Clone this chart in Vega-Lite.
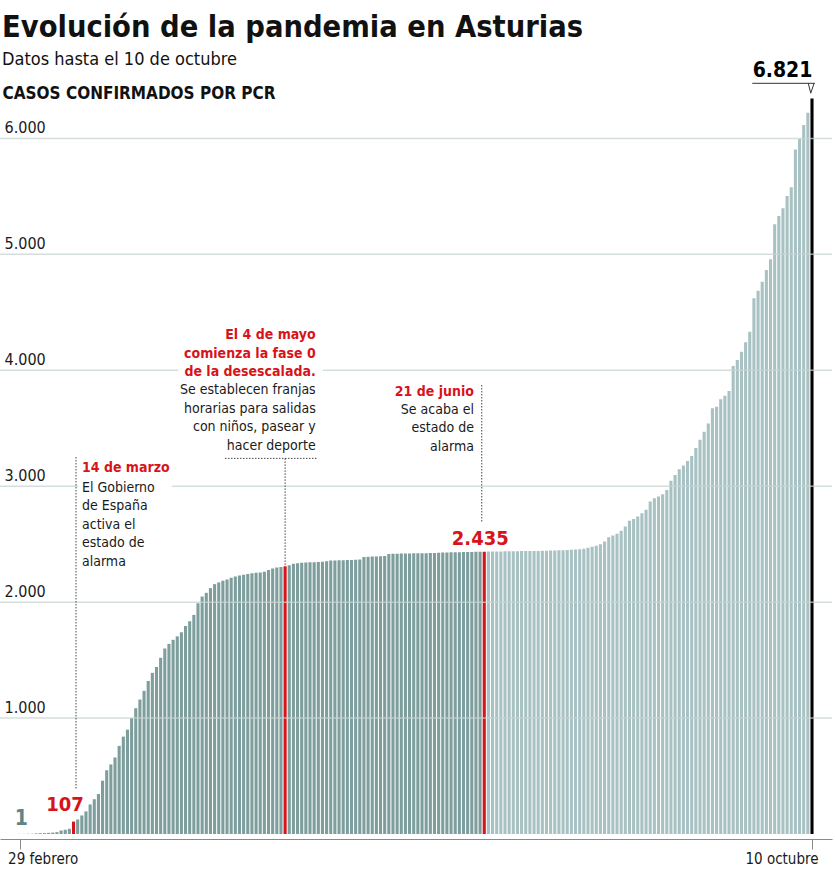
{
  "$schema": "https://vega.github.io/schema/vega-lite/v6.json",
  "width": 832,
  "height": 742,
  "autosize": {"type": "none"},
  "padding": {"left": 0, "top": 92, "right": 3, "bottom": 44},
  "background": "white",
  "config": {"view": {"stroke": null}, "font": "DejaVu Sans Condensed, DejaVu Sans, sans-serif"},
  "title": {
    "text": "Evolución de la pandemia en Asturias",
    "subtitle": "Datos hasta el 10 de octubre",
    "anchor": "start",
    "frame": "group",
    "fontSize": 30.5,
    "fontWeight": "bold",
    "color": "#111111",
    "subtitleFontSize": 18,
    "subtitleColor": "#111111",
    "subtitlePadding": 8,
    "offset": -9,
    "dx": 2
  },
  "datasets": {
    "casos": [
      {"i":0,"v":1,"tipo":"antes"},{"i":1,"v":1,"tipo":"antes"},{"i":2,"v":2,"tipo":"antes"},{"i":3,"v":3,"tipo":"antes"},{"i":4,"v":5,"tipo":"antes"},{"i":5,"v":7,"tipo":"antes"},{"i":6,"v":8,"tipo":"antes"},{"i":7,"v":10,"tipo":"antes"},{"i":8,"v":12,"tipo":"antes"},{"i":9,"v":16,"tipo":"antes"},
      {"i":10,"v":30,"tipo":"antes"},{"i":11,"v":37,"tipo":"antes"},{"i":12,"v":45,"tipo":"antes"},{"i":13,"v":107,"tipo":"rojo"},{"i":14,"v":125,"tipo":"antes"},{"i":15,"v":160,"tipo":"antes"},{"i":16,"v":195,"tipo":"antes"},{"i":17,"v":255,"tipo":"antes"},{"i":18,"v":300,"tipo":"antes"},{"i":19,"v":345,"tipo":"antes"},
      {"i":20,"v":460,"tipo":"antes"},{"i":21,"v":550,"tipo":"antes"},{"i":22,"v":600,"tipo":"antes"},{"i":23,"v":660,"tipo":"antes"},{"i":24,"v":760,"tipo":"antes"},{"i":25,"v":840,"tipo":"antes"},{"i":26,"v":900,"tipo":"antes"},{"i":27,"v":1000,"tipo":"antes"},{"i":28,"v":1085,"tipo":"antes"},{"i":29,"v":1160,"tipo":"antes"},
      {"i":30,"v":1235,"tipo":"antes"},{"i":31,"v":1320,"tipo":"antes"},{"i":32,"v":1390,"tipo":"antes"},{"i":33,"v":1440,"tipo":"antes"},{"i":34,"v":1520,"tipo":"antes"},{"i":35,"v":1600,"tipo":"antes"},{"i":36,"v":1640,"tipo":"antes"},{"i":37,"v":1675,"tipo":"antes"},{"i":38,"v":1705,"tipo":"antes"},{"i":39,"v":1740,"tipo":"antes"},
      {"i":40,"v":1795,"tipo":"antes"},{"i":41,"v":1835,"tipo":"antes"},{"i":42,"v":1890,"tipo":"antes"},{"i":43,"v":1990,"tipo":"antes"},{"i":44,"v":2048,"tipo":"antes"},{"i":45,"v":2080,"tipo":"antes"},{"i":46,"v":2121,"tipo":"antes"},{"i":47,"v":2155,"tipo":"antes"},{"i":48,"v":2170,"tipo":"antes"},{"i":49,"v":2185,"tipo":"antes"},
      {"i":50,"v":2195,"tipo":"antes"},{"i":51,"v":2210,"tipo":"antes"},{"i":52,"v":2222,"tipo":"antes"},{"i":53,"v":2230,"tipo":"antes"},{"i":54,"v":2236,"tipo":"antes"},{"i":55,"v":2242,"tipo":"antes"},{"i":56,"v":2248,"tipo":"antes"},{"i":57,"v":2253,"tipo":"antes"},{"i":58,"v":2256,"tipo":"antes"},{"i":59,"v":2262,"tipo":"antes"},
      {"i":60,"v":2278,"tipo":"antes"},{"i":61,"v":2290,"tipo":"antes"},{"i":62,"v":2298,"tipo":"antes"},{"i":63,"v":2302,"tipo":"antes"},{"i":64,"v":2310,"tipo":"rojo"},{"i":65,"v":2319,"tipo":"antes"},{"i":66,"v":2330,"tipo":"antes"},{"i":67,"v":2336,"tipo":"antes"},{"i":68,"v":2339,"tipo":"antes"},{"i":69,"v":2341,"tipo":"antes"},
      {"i":70,"v":2343,"tipo":"antes"},{"i":71,"v":2345,"tipo":"antes"},{"i":72,"v":2347,"tipo":"antes"},{"i":73,"v":2349,"tipo":"antes"},{"i":74,"v":2352,"tipo":"antes"},{"i":75,"v":2358,"tipo":"antes"},{"i":76,"v":2360,"tipo":"antes"},{"i":77,"v":2361,"tipo":"antes"},{"i":78,"v":2362,"tipo":"antes"},{"i":79,"v":2363,"tipo":"antes"},
      {"i":80,"v":2364,"tipo":"antes"},{"i":81,"v":2366,"tipo":"antes"},{"i":82,"v":2368,"tipo":"antes"},{"i":83,"v":2390,"tipo":"antes"},{"i":84,"v":2392,"tipo":"antes"},{"i":85,"v":2393,"tipo":"antes"},{"i":86,"v":2394,"tipo":"antes"},{"i":87,"v":2395,"tipo":"antes"},{"i":88,"v":2397,"tipo":"antes"},{"i":89,"v":2415,"tipo":"antes"},
      {"i":90,"v":2417,"tipo":"antes"},{"i":91,"v":2418,"tipo":"antes"},{"i":92,"v":2419,"tipo":"antes"},{"i":93,"v":2420,"tipo":"antes"},{"i":94,"v":2420,"tipo":"antes"},{"i":95,"v":2421,"tipo":"antes"},{"i":96,"v":2421,"tipo":"antes"},{"i":97,"v":2422,"tipo":"antes"},{"i":98,"v":2422,"tipo":"antes"},{"i":99,"v":2423,"tipo":"antes"},
      {"i":100,"v":2424,"tipo":"antes"},{"i":101,"v":2426,"tipo":"antes"},{"i":102,"v":2428,"tipo":"antes"},{"i":103,"v":2429,"tipo":"antes"},{"i":104,"v":2430,"tipo":"antes"},{"i":105,"v":2431,"tipo":"antes"},{"i":106,"v":2431,"tipo":"antes"},{"i":107,"v":2432,"tipo":"antes"},{"i":108,"v":2432,"tipo":"antes"},{"i":109,"v":2433,"tipo":"antes"},
      {"i":110,"v":2434,"tipo":"antes"},{"i":111,"v":2434,"tipo":"antes"},{"i":112,"v":2435,"tipo":"rojo"},{"i":113,"v":2436,"tipo":"despues"},{"i":114,"v":2436,"tipo":"despues"},{"i":115,"v":2437,"tipo":"despues"},{"i":116,"v":2437,"tipo":"despues"},{"i":117,"v":2438,"tipo":"despues"},{"i":118,"v":2438,"tipo":"despues"},{"i":119,"v":2439,"tipo":"despues"},
      {"i":120,"v":2439,"tipo":"despues"},{"i":121,"v":2440,"tipo":"despues"},{"i":122,"v":2440,"tipo":"despues"},{"i":123,"v":2441,"tipo":"despues"},{"i":124,"v":2441,"tipo":"despues"},{"i":125,"v":2442,"tipo":"despues"},{"i":126,"v":2443,"tipo":"despues"},{"i":127,"v":2444,"tipo":"despues"},{"i":128,"v":2445,"tipo":"despues"},{"i":129,"v":2446,"tipo":"despues"},
      {"i":130,"v":2447,"tipo":"despues"},{"i":131,"v":2448,"tipo":"despues"},{"i":132,"v":2450,"tipo":"despues"},{"i":133,"v":2452,"tipo":"despues"},{"i":134,"v":2454,"tipo":"despues"},{"i":135,"v":2457,"tipo":"despues"},{"i":136,"v":2460,"tipo":"despues"},{"i":137,"v":2470,"tipo":"despues"},{"i":138,"v":2478,"tipo":"despues"},{"i":139,"v":2486,"tipo":"despues"},
      {"i":140,"v":2500,"tipo":"despues"},{"i":141,"v":2523,"tipo":"despues"},{"i":142,"v":2560,"tipo":"despues"},{"i":143,"v":2574,"tipo":"despues"},{"i":144,"v":2590,"tipo":"despues"},{"i":145,"v":2615,"tipo":"despues"},{"i":146,"v":2652,"tipo":"despues"},{"i":147,"v":2701,"tipo":"despues"},{"i":148,"v":2716,"tipo":"despues"},{"i":149,"v":2738,"tipo":"despues"},
      {"i":150,"v":2767,"tipo":"despues"},{"i":151,"v":2796,"tipo":"despues"},{"i":152,"v":2867,"tipo":"despues"},{"i":153,"v":2897,"tipo":"despues"},{"i":154,"v":2910,"tipo":"despues"},{"i":155,"v":2931,"tipo":"despues"},{"i":156,"v":2968,"tipo":"despues"},{"i":157,"v":3046,"tipo":"despues"},{"i":158,"v":3097,"tipo":"despues"},{"i":159,"v":3147,"tipo":"despues"},
      {"i":160,"v":3178,"tipo":"despues"},{"i":161,"v":3218,"tipo":"despues"},{"i":162,"v":3260,"tipo":"despues"},{"i":163,"v":3330,"tipo":"despues"},{"i":164,"v":3400,"tipo":"despues"},{"i":165,"v":3470,"tipo":"despues"},{"i":166,"v":3540,"tipo":"despues"},{"i":167,"v":3672,"tipo":"despues"},{"i":168,"v":3686,"tipo":"despues"},{"i":169,"v":3750,"tipo":"despues"},
      {"i":170,"v":3779,"tipo":"despues"},{"i":171,"v":3822,"tipo":"despues"},{"i":172,"v":4037,"tipo":"despues"},{"i":173,"v":4089,"tipo":"despues"},{"i":174,"v":4160,"tipo":"despues"},{"i":175,"v":4241,"tipo":"despues"},{"i":176,"v":4333,"tipo":"despues"},{"i":177,"v":4621,"tipo":"despues"},{"i":178,"v":4686,"tipo":"despues"},{"i":179,"v":4764,"tipo":"despues"},
      {"i":180,"v":4865,"tipo":"despues"},{"i":181,"v":4957,"tipo":"despues"},{"i":182,"v":5259,"tipo":"despues"},{"i":183,"v":5330,"tipo":"despues"},{"i":184,"v":5397,"tipo":"despues"},{"i":185,"v":5503,"tipo":"despues"},{"i":186,"v":5578,"tipo":"despues"},{"i":187,"v":5905,"tipo":"despues"},{"i":188,"v":5994,"tipo":"despues"},{"i":189,"v":6115,"tipo":"despues"},
      {"i":190,"v":6221,"tipo":"despues"},{"i":191,"v":6345,"tipo":"ultimo"}
    ],
    "rejilla": [{"v":1000},{"v":2000},{"v":3000},{"v":4000},{"v":5000},{"v":6000}],
    "cajas": [
      {"i":14.1,"i2":36.7,"v":3269,"v2":2260},
      {"i":38.2,"i2":73.1,"v":4416,"v2":3262}
    ],
    "guias": [
      {"i":13.6,"i2":13.6,"v":3252,"v2":380},
      {"i":49.5,"i2":71.6,"v":3240,"v2":3240},
      {"i":64.0,"i2":64.0,"v":3240,"v2":2318},
      {"i":111.4,"i2":111.4,"v":3873,"v2":2694}
    ],
    "marcas": [
      {"i":176.6,"i2":191.7,"v":6475,"v2":6475},
      {"i":190.1,"i2":190.7,"v":6475,"v2":6390},
      {"i":191.5,"i2":190.7,"v":6475,"v2":6390}
    ],
    "notas": [
      {"bloque":"marzo","tipo":"titular","i":15.04,"v":3122,"texto":"14 de marzo"},
      {"bloque":"marzo","tipo":"texto","i":15.04,"v":2950,"texto":"El Gobierno\nde España\nactiva el\nestado de\nalarma"},
      {"bloque":"mayo","tipo":"titular","i":71.37,"v":4269,"texto":"El 4 de mayo\ncomienza la fase 0\nde la desescalada."},
      {"bloque":"mayo","tipo":"texto","i":71.37,"v":3791,"texto":"Se establecen franjas\nhorarias para salidas\ncon niños, pasear y\nhacer deporte"},
      {"bloque":"junio","tipo":"titular","i":109.5,"v":3778,"texto":"21 de junio"},
      {"bloque":"junio","tipo":"texto","i":109.5,"v":3623,"texto":"Se acaba el\nestado de\nalarma"}
    ]
  },
  "layer": [
    {
      "data": {"name": "casos"},
      "mark": {"type": "bar", "width": 3.1, "orient": "vertical"},
      "encoding": {
        "x": {
          "field": "i", "type": "quantitative",
          "scale": {"domain": [-4.724, 195.82], "nice": false, "zero": false, "padding": 0},
          "axis": {
            "values": [0, 191], "offset": 5, "grid": false, "title": null,
            "domainColor": "#8a8a8a", "tickColor": "#8a8a8a", "tickSize": 10,
            "labelPadding": 2, "labelFontSize": 15, "labelColor": "#1a1a1a", "labelFlush": false,
            "labelExpr": "datum.value == 0 ? '29 febrero' : '10 octubre'",
            "labelAlign": {"condition": {"test": "datum.value == 0", "value": "left"}, "value": "right"},
            "labelOffset": {"condition": {"test": "datum.value == 0", "value": -12}, "value": 6}
          }
        },
        "y": {
          "field": "v", "type": "quantitative",
          "scale": {"domain": [0, 6400], "nice": false, "padding": 0},
          "axis": {
            "values": [1000, 2000, 3000, 4000, 5000, 6000],
            "grid": false, "domain": false, "ticks": false,
            "labelAlign": "left", "labelPadding": -4, "labelBaseline": "alphabetic", "labelOffset": -6,
            "labelFontSize": 16, "labelColor": "#1a1a1a",
            "labelExpr": "replace(format(datum.value, ','), ',', '.')",
            "title": "CASOS CONFIRMADOS POR PCR",
            "titleAngle": 0, "titleAlign": "left", "titleBaseline": "alphabetic",
            "titleX": 2, "titleY": 6, "titleFontSize": 17, "titleFontWeight": "bold", "titleColor": "#111111"
          }
        },
        "color": {
          "field": "tipo", "type": "nominal", "legend": null,
          "scale": {"domain": ["antes", "despues", "rojo", "ultimo"], "range": ["#7d9e9d", "#a8c2c3", "#d7141a", "#000000"]}
        }
      }
    },
    {
      "data": {"name": "rejilla"},
      "mark": {"type": "rule", "color": "#c5d3d3", "strokeWidth": 1.5, "opacity": 0.75},
      "encoding": {"y": {"field": "v", "type": "quantitative"}}
    },
    {
      "data": {"name": "cajas"},
      "mark": {"type": "rect", "color": "white"},
      "encoding": {
        "x": {"field": "i", "type": "quantitative"},
        "x2": {"field": "i2"},
        "y": {"field": "v", "type": "quantitative"},
        "y2": {"field": "v2"}
      }
    },
    {
      "data": {"name": "guias"},
      "mark": {"type": "rule", "color": "#444444", "strokeWidth": 1, "strokeDash": [1.5, 1.5]},
      "encoding": {
        "x": {"field": "i", "type": "quantitative"},
        "x2": {"field": "i2"},
        "y": {"field": "v", "type": "quantitative"},
        "y2": {"field": "v2"}
      }
    },
    {
      "data": {"name": "marcas"},
      "mark": {"type": "rule", "color": "#333333", "strokeWidth": 1},
      "encoding": {
        "x": {"field": "i", "type": "quantitative"},
        "x2": {"field": "i2"},
        "y": {"field": "v", "type": "quantitative"},
        "y2": {"field": "v2"}
      }
    },
    {
      "data": {"name": "casos"},
      "transform": [{"filter": "datum.i == 0"}],
      "mark": {"type": "text", "text": "1", "fontSize": 21, "fontWeight": "bold", "color": "#5e8584", "baseline": "alphabetic", "align": "center", "dx": 1.7, "dy": -9},
      "encoding": {
        "x": {"field": "i", "type": "quantitative"},
        "y": {"field": "v", "type": "quantitative"}
      }
    },
    {
      "data": {"name": "casos"},
      "transform": [{"filter": "datum.i == 13"}],
      "mark": {"type": "text", "fontSize": 20, "fontWeight": "bold", "color": "#d7141a", "baseline": "alphabetic", "align": "center", "dx": -8.5, "dy": -11},
      "encoding": {
        "x": {"field": "i", "type": "quantitative"},
        "y": {"field": "v", "type": "quantitative"},
        "text": {"field": "v", "type": "quantitative", "format": "d"}
      }
    },
    {
      "data": {"name": "casos"},
      "transform": [{"filter": "datum.i == 112"}, {"calculate": "replace(format(datum.v, ','), ',', '.')", "as": "etiqueta"}],
      "mark": {"type": "text", "fontSize": 20, "fontWeight": "bold", "color": "#d7141a", "baseline": "alphabetic", "align": "center", "dx": -4, "dy": -7},
      "encoding": {
        "x": {"field": "i", "type": "quantitative"},
        "y": {"field": "v", "type": "quantitative"},
        "text": {"field": "etiqueta"}
      }
    },
    {
      "data": {"name": "casos"},
      "transform": [{"filter": "datum.i == 191"}],
      "mark": {"type": "text", "text": "6.821", "fontSize": 21, "fontWeight": "bold", "color": "#000000", "baseline": "alphabetic", "align": "center", "dx": -29.5, "dy": -21},
      "encoding": {
        "x": {"field": "i", "type": "quantitative"},
        "y": {"field": "v", "type": "quantitative"}
      }
    },
    {
      "data": {"name": "notas"},
      "transform": [{"filter": "datum.bloque == 'marzo' && datum.tipo == 'titular'"}],
      "mark": {"type": "text", "align": "left", "baseline": "alphabetic", "fontSize": 14, "fontWeight": "bold", "color": "#d7141a", "lineBreak": "\n", "lineHeight": 18.5},
      "encoding": {
        "x": {"field": "i", "type": "quantitative"},
        "y": {"field": "v", "type": "quantitative"},
        "text": {"field": "texto"}
      }
    },
    {
      "data": {"name": "notas"},
      "transform": [{"filter": "datum.bloque == 'marzo' && datum.tipo == 'texto'"}],
      "mark": {"type": "text", "align": "left", "baseline": "alphabetic", "fontSize": 14, "color": "#1a1a1a", "lineBreak": "\n", "lineHeight": 18.5},
      "encoding": {
        "x": {"field": "i", "type": "quantitative"},
        "y": {"field": "v", "type": "quantitative"},
        "text": {"field": "texto"}
      }
    },
    {
      "data": {"name": "notas"},
      "transform": [{"filter": "datum.bloque != 'marzo' && datum.tipo == 'titular'"}],
      "mark": {"type": "text", "align": "right", "baseline": "alphabetic", "fontSize": 14, "fontWeight": "bold", "color": "#d7141a", "lineBreak": "\n", "lineHeight": 18.5},
      "encoding": {
        "x": {"field": "i", "type": "quantitative"},
        "y": {"field": "v", "type": "quantitative"},
        "text": {"field": "texto"}
      }
    },
    {
      "data": {"name": "notas"},
      "transform": [{"filter": "datum.bloque != 'marzo' && datum.tipo == 'texto'"}],
      "mark": {"type": "text", "align": "right", "baseline": "alphabetic", "fontSize": 14, "color": "#1a1a1a", "lineBreak": "\n", "lineHeight": 18.5},
      "encoding": {
        "x": {"field": "i", "type": "quantitative"},
        "y": {"field": "v", "type": "quantitative"},
        "text": {"field": "texto"}
      }
    }
  ]
}
